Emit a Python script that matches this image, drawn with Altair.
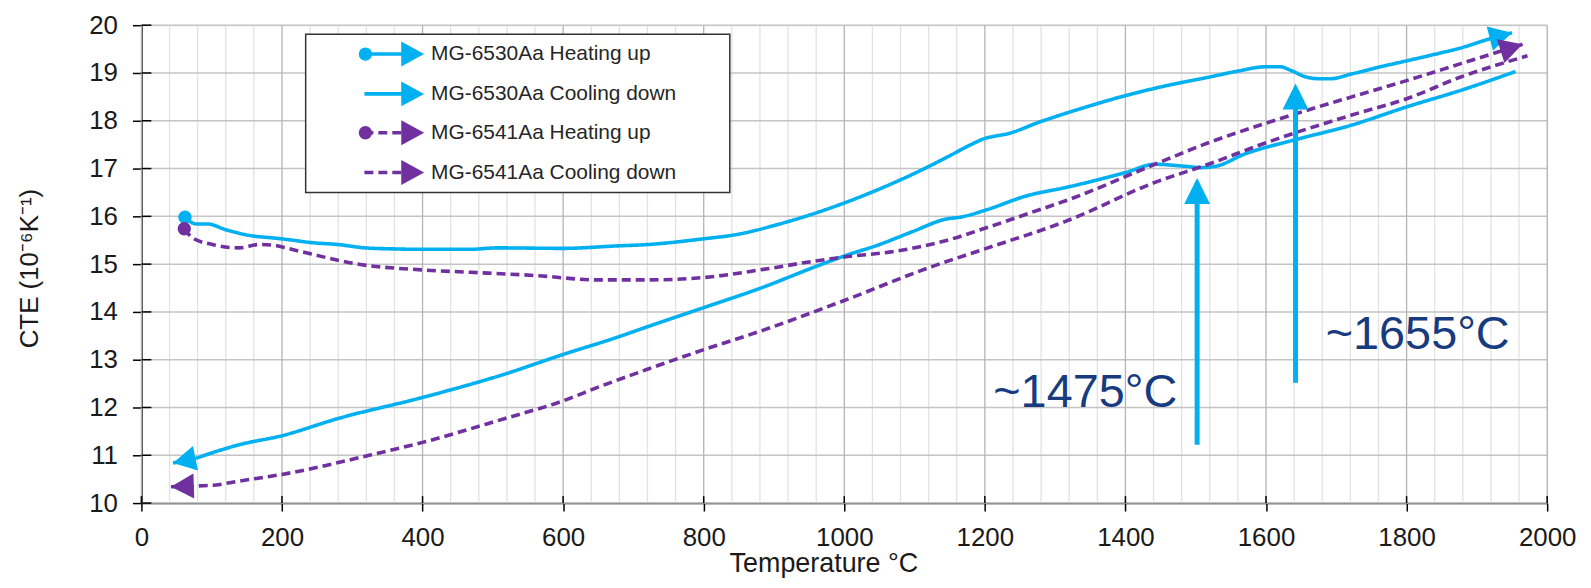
import math
import altair as alt
import pandas as pd

# ---------------- data ----------------
series_names = ["MG-6530Aa Heating up", "MG-6530Aa Cooling down",
                "MG-6541Aa Heating up", "MG-6541Aa Cooling down"]
series_colors = ["#00B0F0", "#00B0F0", "#7030A0", "#7030A0"]
series_dash = [[1, 0], [1, 0], [9, 5], [9, 5]]

# MG-6530Aa heating (measurement order: low T -> high T)
h30_T = [62, 78, 94, 120, 158, 186, 205, 242, 280, 318, 355, 398, 468, 506, 600, 675, 720,
         800, 847, 908, 1000, 1064, 1100, 1149, 1180, 1200, 1215, 1230, 1279, 1340, 1401,
         1460, 1518, 1560, 1600, 1620, 1636, 1656, 1675, 1692, 1722, 1760, 1799, 1840,
         1876, 1924, 1950]
h30_C = [15.98, 15.84, 15.84, 15.72, 15.59, 15.55, 15.52, 15.45, 15.41, 15.34, 15.32, 15.31,
         15.31, 15.34, 15.33, 15.38, 15.41, 15.53, 15.62, 15.84, 16.28, 16.66, 16.90, 17.26,
         17.50, 17.63, 17.68, 17.72, 17.98, 18.27, 18.53, 18.74, 18.91, 19.04, 19.13, 19.13,
         19.05, 18.92, 18.88, 18.88, 18.98, 19.12, 19.25, 19.39, 19.52, 19.74, 19.84]

# MG-6530Aa cooling (measurement order: high T -> low T)
c30_T = [1955, 1880, 1800, 1722, 1641, 1569, 1529, 1508, 1483, 1442, 1401, 1314, 1262, 1201,
         1168, 1144, 1097, 1050, 1000, 956, 885, 800, 720, 675, 600, 515, 400, 280, 200, 139,
         92, 78, 45]
c30_C = [19.03, 18.65, 18.29, 17.91, 17.60, 17.30, 17.05, 17.02, 17.05, 17.09, 16.92, 16.60,
         16.44, 16.13, 15.99, 15.94, 15.68, 15.41, 15.17, 14.93, 14.52, 14.09, 13.69, 13.46,
         13.11, 12.69, 12.21, 11.77, 11.41, 11.22, 11.01, 10.94, 10.84]

# MG-6541Aa heating
h41_T = [61, 73, 101, 139, 167, 186, 205, 242, 304, 398, 468, 562, 649, 720, 800, 885, 956,
         1000, 1073, 1144, 1200, 1262, 1323, 1442, 1518, 1600, 1722, 1800, 1876, 1965]
h41_C = [15.74, 15.55, 15.41, 15.34, 15.41, 15.40, 15.34, 15.21, 15.01, 14.88, 14.83, 14.76,
         14.67, 14.67, 14.72, 14.89, 15.06, 15.15, 15.27, 15.49, 15.75, 16.06, 16.37, 17.09,
         17.54, 17.95, 18.50, 18.84, 19.19, 19.60]

# MG-6541Aa cooling
c41_T = [1972, 1876, 1800, 1722, 1600, 1518, 1442, 1314, 1200, 1121, 1000, 885, 800, 720,
         649, 600, 515, 400, 327, 200, 139, 106, 82, 42]
c41_C = [19.36, 18.91, 18.46, 18.12, 17.54, 17.09, 16.71, 15.89, 15.32, 14.93, 14.24, 13.62,
         13.21, 12.80, 12.42, 12.14, 11.76, 11.27, 11.01, 10.60, 10.46, 10.38, 10.36, 10.34]

# annotation arrows (transition temperatures)
ann_T = [1502, 1642]
ann_C0 = [11.22, 12.52]
ann_C1 = [16.80, 18.78]
ann_label = ["~1475°C", "~1655°C"]
ann_label_T = [1212, 1685]
ann_label_C = [12.0, 13.22]

x_ticks = list(range(0, 2001, 200))
y_ticks = list(range(10, 21))

# ---------------- layout ----------------
W, H = 1412, 480
TOP = 16
X_DOM, Y_DOM = [0, 2000], [10, 20]
PX_X = W / (X_DOM[1] - X_DOM[0])
PX_Y = H / (Y_DOM[1] - Y_DOM[0])
FONT = "Liberation Sans"
TXT = "#1a1a1a"

ARROW_R = "M0,0L-0.92,-0.5L-0.92,0.5Z"   # tip at origin, points right
ARROW_U = "M0,0L-0.5,1L0.5,1Z"          # tip at origin, points up

xs = alt.Scale(domain=X_DOM, nice=False, zero=False)
ys = alt.Scale(domain=Y_DOM, nice=False, zero=False)
xaxis = alt.Axis(values=x_ticks, format="d", grid=False, title="Temperature °C",
                 domainColor="black", domainWidth=1.5, tickColor="black", tickWidth=1.5,
                 tickSize=8, labelFontSize=26, labelPadding=14, labelColor=TXT,
                 labelFlush=False, labelOverlap=False, labelFont=FONT,
                 titleFontSize=27, titleFontWeight="normal", titleColor=TXT, titleFont=FONT,
                 titleX=685, titleY=69, titleAlign="center", titleBaseline="alphabetic")
yaxis = alt.Axis(values=y_ticks, format="d", grid=False, title="CTE (10⁻⁶K⁻¹)",
                 domainColor="black", domainWidth=1.5, tickColor="black", tickWidth=1.5,
                 tickSize=9, labelFontSize=26, labelPadding=15, labelColor=TXT,
                 labelFlush=False, labelOverlap=False, labelFont=FONT,
                 titleFontSize=26, titleFontWeight="normal", titleColor=TXT, titleFont=FONT,
                 titleAngle=270, titleX=-112, titleY=244, titleAlign="center",
                 titleBaseline="middle")


def X(f="T:Q"):
    return alt.X(f, scale=xs, axis=xaxis)


def Y(f="C:Q"):
    return alt.Y(f, scale=ys, axis=yaxis)


color_enc = alt.Color("series:N", scale=alt.Scale(domain=series_names, range=series_colors),
                      legend=None)

# ---------------- build tables ----------------
all_T = [h30_T, c30_T, h41_T, c41_T]
all_C = [h30_C, c30_C, h41_C, c41_C]
rows, ends, starts = [], [], []
for name, Ts, Cs in zip(series_names, all_T, all_C):
    for t, c in zip(Ts, Cs):
        rows.append(dict(series=name, T=t, C=c))
    dx = (Ts[-1] - Ts[-2]) * PX_X
    dy = -(Cs[-1] - Cs[-2]) * PX_Y
    ends.append(dict(series=name, T=Ts[-1], C=Cs[-1],
                     angle=math.degrees(math.atan2(dy, dx)) % 360))
    if "Heating" in name:
        starts.append(dict(series=name, T=Ts[0], C=Cs[0]))
df = pd.DataFrame(rows)
df_end = pd.DataFrame(ends)
df_start = pd.DataFrame(starts)

df_ann = pd.DataFrame(dict(T=ann_T, C=ann_C0,
                           C2=[c - 24 / PX_Y for c in ann_C1], Ctip=ann_C1))
df_ann_txt = pd.DataFrame(dict(T=ann_label_T, C=ann_label_C, label=ann_label))

minor_x = pd.DataFrame(dict(T=[v for v in range(0, 2001, 40) if v % 200]))
major_x = pd.DataFrame(dict(T=x_ticks))
hgrid = pd.DataFrame(dict(C=y_ticks))

# ---------------- layers ----------------
layers = []
layers.append(alt.Chart(minor_x).mark_rule(color="#E2E2E2", strokeWidth=1.3).encode(x=X()))
layers.append(alt.Chart(hgrid).mark_rule(color="#C4C4C4", strokeWidth=1.5).encode(y=Y()))
layers.append(alt.Chart(major_x).mark_rule(color="#B4B4B4", strokeWidth=1.3).encode(x=X()))
# inner halves of the crossing ticks
layers.append(alt.Chart(hgrid).mark_rule(color="black", strokeWidth=1.5).encode(
    y=Y(), x=alt.value(0), x2=alt.value(10)))
layers.append(alt.Chart(major_x).mark_rule(color="black", strokeWidth=1.5).encode(
    x=X(), y=alt.value(H - 7), y2=alt.value(H)))

# data curves
layers.append(alt.Chart(df).mark_line(strokeWidth=3.6, interpolate="monotone",
                                      strokeCap="butt").encode(
    x=X(), y=Y(), color=color_enc,
    strokeDash=alt.StrokeDash("series:N", scale=alt.Scale(domain=series_names,
                                                          range=series_dash), legend=None),
    detail="series:N"))
layers.append(alt.Chart(df_end).mark_point(shape=ARROW_R, filled=True, size=2500, opacity=1,
                                           strokeWidth=0).encode(
    x=X(), y=Y(), color=color_enc, angle=alt.Angle("angle:Q", scale=None)))
layers.append(alt.Chart(df_start).mark_point(shape="circle", filled=True, size=180, opacity=1,
                                             strokeWidth=0).encode(
    x=X(), y=Y(), color=color_enc))

# transition arrows and labels
layers.append(alt.Chart(df_ann).mark_rule(color="#00B0F0", strokeWidth=5).encode(
    x=X(), y=Y(), y2="C2:Q"))
layers.append(alt.Chart(df_ann).mark_point(shape=ARROW_U, filled=True, size=2704, opacity=1,
                                           strokeWidth=0, color="#00B0F0").encode(
    x=X(), y=Y("Ctip:Q")))
layers.append(alt.Chart(df_ann_txt).mark_text(fontSize=47, font=FONT, color="#173B7E",
                                              align="left", baseline="alphabetic").encode(
    x=X(), y=Y(), text="label:N"))

# legend (drawn by hand to show line + marker + arrow); page y -> plot y
def py(page_y):
    return page_y - 8 - TOP


one = pd.DataFrame({"k": [0]})
layers.append(alt.Chart(one).mark_rect(fill="white", stroke="#333333", strokeWidth=1.5).encode(
    x=alt.value(165), x2=alt.value(591), y=alt.value(py(33)), y2=alt.value(py(192))))
leg_y = [py(53), py(93), py(132), py(172)]
for name, col, dash, yc in zip(series_names, series_colors, series_dash, leg_y):
    heating = "Heating" in name
    layers.append(alt.Chart(one).mark_rule(color=col, strokeWidth=3.6, strokeDash=dash).encode(
        x=alt.value(224), x2=alt.value(266), y=alt.value(yc)))
    layers.append(alt.Chart(one).mark_point(shape=ARROW_R, filled=True, size=2500, opacity=1,
                                            strokeWidth=0, color=col).encode(
        x=alt.value(284), y=alt.value(yc)))
    if heating:
        layers.append(alt.Chart(one).mark_point(shape="circle", filled=True, size=180,
                                                opacity=1, strokeWidth=0, color=col).encode(
            x=alt.value(225), y=alt.value(yc)))
    layers.append(alt.Chart(one).mark_text(fontSize=21, font=FONT, color="#262626",
                                           align="left", baseline="middle").encode(
        x=alt.value(291), y=alt.value(yc), text=alt.value(name)))

chart = alt.layer(*layers).properties(
    width=W, height=H,
    padding={"left": 134, "top": TOP, "right": 36, "bottom": 76},
    autosize=alt.AutoSizeParams(type="none"),
).configure_view(stroke=None).configure(font=FONT)

chart.save("out.html", embed_options={"renderer": "svg", "actions": False})
